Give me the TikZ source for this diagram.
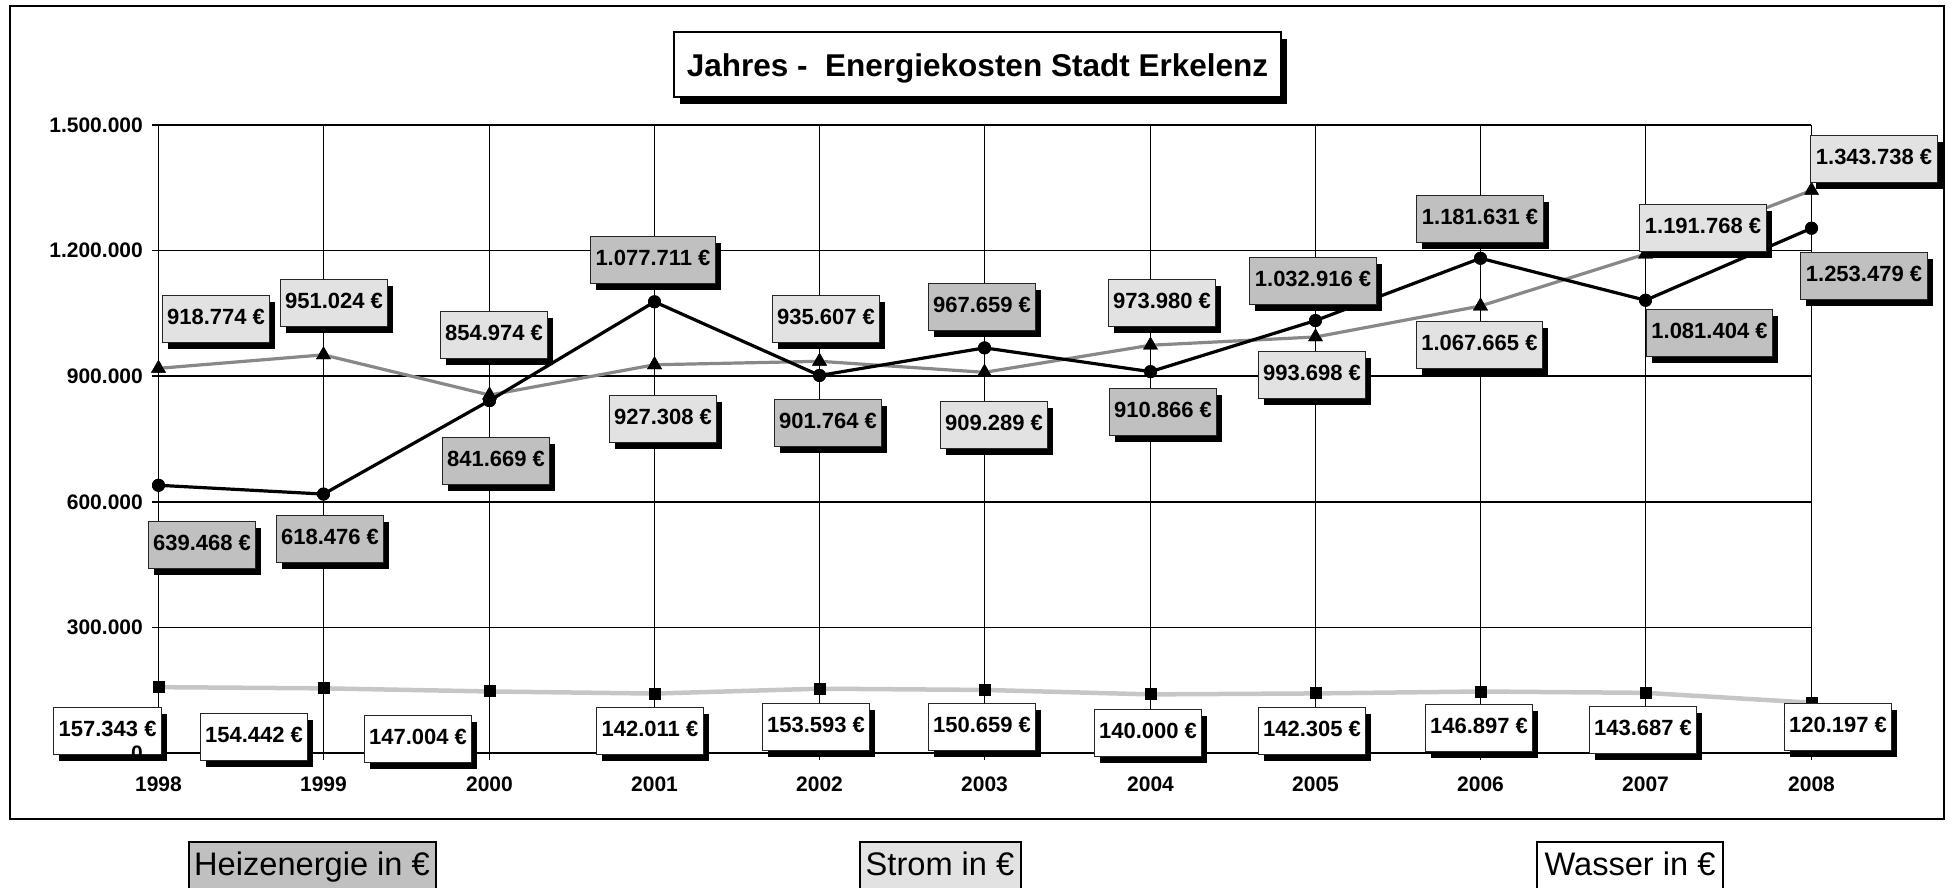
\documentclass[tikz,border=0pt]{standalone}
\usepackage{fontspec}
\setmainfont{Liberation Sans}
\usetikzlibrary{shadows,shapes.geometric}
\definecolor{heizfill}{HTML}{C0C0C0}
\definecolor{stromfill}{HTML}{E2E2E2}
\definecolor{stromcol}{HTML}{888888}
\definecolor{wassercol}{HTML}{C6C6C6}
\begin{document}
\begin{tikzpicture}[x=1pt,y=-1pt,
  shadowed/.style={drop shadow={shadow xshift=5.5pt,shadow yshift=-6.5pt,opacity=1,fill=black}},
  lbl/.style={shadowed,draw=black!85,line width=1pt,inner xsep=5pt,inner ysep=0pt,
    minimum height=47pt,text height=16pt,text depth=5pt,
    font=\bfseries\fontsize{22}{26}\selectfont},
  hlbl/.style={lbl,fill=heizfill},
  slbl/.style={lbl,fill=stromfill},
  wlbl/.style={lbl,fill=white},
  gridh/.style={line width=1.6pt,black},
  gridv/.style={line width=1.3pt,black},
  axlbl/.style={font=\bfseries\fontsize{21}{24}\selectfont,inner sep=0pt},
  hmark/.style={circle,fill=black,minimum size=13pt,inner sep=0pt},
  smark/.style={regular polygon,regular polygon sides=3,fill=black,minimum size=17pt,inner sep=0pt},
  wmark/.style={rectangle,fill=black,minimum size=12pt,inner sep=0pt},
  hpath/.style={line width=3.2pt,black,line join=round},
  spath/.style={line width=3.2pt,stromcol,line join=round},
  wpath/.style={line width=4.5pt,wassercol,line join=round},
  legbox/.style={draw=black,line width=2pt,minimum height=60pt,inner sep=0pt},
  legtxt/.style={font=\fontsize{32.6}{36}\selectfont,inner sep=0pt}
]
\clip (0,0) rectangle (1952,887);
\useasboundingbox (0,0) rectangle (1952,887);
% outer frame
\draw[line width=2.5pt] (10,6) rectangle (1944,819);
% title
\node[shadowed,draw=black,line width=1.5pt,fill=white,minimum width=607pt,minimum height=65pt,
  text height=23pt,text depth=0pt,font=\bfseries\fontsize{31.5}{36}\selectfont] (title)
  at (977.5,64.5) {Jahres - \ Energiekosten Stadt Erkelenz};
% grid
\foreach \v in {0,300,600,900,1200,1500}
  \draw[gridh] (152,{753-0.418667*\v}) -- (1811,{753-0.418667*\v});
\foreach \i in {0,...,10}
  \draw[gridv] ({round(158+165.25*\i)+0.5},125) -- ({round(158+165.25*\i)+0.5},760);
% axis labels
\foreach \v/\t in {300/300.000,600/600.000,900/900.000,1200/1.200.000,1500/1.500.000}
  \node[axlbl,anchor=east] (y\v) at (143,{753-0.418667*\v}) {\t};
\foreach \i/\t in {0/1998,1/1999,2/2000,3/2001,4/2002,5/2003,6/2004,7/2005,8/2006,9/2007,10/2008}
  \node[axlbl] (yr\i) at ({round(158+165.25*\i)+0.5},784) {\t};
% markers
\foreach \i/\v in {0/157.343,1/154.442,2/147.004,3/142.011,4/153.593,5/150.659,6/140.000,7/142.305,8/146.897,9/143.687,10/120.197}
  \node[wmark] (wm\i) at ({round(158+165.25*\i)+0.5},{753-0.418667*\v}) {};
\foreach \i/\v in {0/918.774,1/951.024,2/854.974,3/927.308,4/935.607,5/909.289,6/973.980,7/993.698,8/1067.665,9/1191.768,10/1343.738}
  \node[smark] (sm\i) at ({round(158+165.25*\i)+0.5},{753-0.418667*\v}) {};
\foreach \i/\v in {0/639.468,1/618.476,2/841.669,3/1077.711,4/901.764,5/967.659,6/910.866,7/1032.916,8/1181.631,9/1081.404,10/1253.479}
  \node[hmark] (hm\i) at ({round(158+165.25*\i)+0.5},{753-0.418667*\v}) {};
% lines
\draw[wpath] (wm0.center) -- (wm1.center) -- (wm2.center) -- (wm3.center) -- (wm4.center) -- (wm5.center) -- (wm6.center) -- (wm7.center) -- (wm8.center) -- (wm9.center) -- (wm10.center);
\draw[spath] (sm0.center) -- (sm1.center) -- (sm2.center) -- (sm3.center) -- (sm4.center) -- (sm5.center) -- (sm6.center) -- (sm7.center) -- (sm8.center) -- (sm9.center) -- (sm10.center);
\draw[hpath] (hm0.center) -- (hm1.center) -- (hm2.center) -- (hm3.center) -- (hm4.center) -- (hm5.center) -- (hm6.center) -- (hm7.center) -- (hm8.center) -- (hm9.center) -- (hm10.center);
% markers on top of lines
\foreach \i in {0,...,10} {
  \node[wmark] (wmt\i) at (wm\i) {};
  \node[smark] (smt\i) at (sm\i) {};
  \node[hmark] (hmt\i) at (hm\i) {};
}
% value labels
\foreach \i/\t/\x/\y in {0/157.343/107.6/731,1/154.442/254/737,2/147.004/418/739,3/142.011/650/731,4/153.593/816/727,5/150.659/982/727,6/140.000/1148/733,7/142.305/1312/730.5,8/146.897/1479/728,9/143.687/1643/730,10/120.197/1838/726.7}
  \node[wlbl] (wl\i) at (\x,\y) {\t\ €};
\foreach \i/\t/\x/\y in {0/918.774/216/319,1/951.024/334/302.7,2/854.974/494/335,3/927.308/663/419,4/935.607/826/319,5/909.289/994/425,6/973.980/1162/303,7/993.698/1312/375,8/1.067.665/1479.4/345,9/1.191.768/1703/228,10/1.343.738/1874/158.5}
  \node[slbl] (sl\i) at (\x,\y) {\t\ €};
\foreach \i/\t/\x/\y in {0/639.468/202/544.5,1/618.476/330/539,2/841.669/496/461,3/1.077.711/653/260,4/901.764/828/422.5,5/967.659/982/307,6/910.866/1163/412,7/1.032.916/1313/281,8/1.181.631/1480/218.5,9/1.081.404/1709.5/333,10/1.253.479/1864/276}
  \node[hlbl] (hl\i) at (\x,\y) {\t\ €};
% zero label
\node[axlbl,anchor=east] (y0) at (143,753) {0};
% legend
\node[legbox,fill=heizfill,minimum width=247pt] (legh) at (312,872) {};
\node[legtxt,anchor=base] (leght) at (312,875) {Heizenergie in €};
\node[legbox,fill=stromfill,minimum width=161pt] (legs) at (940,872) {};
\node[legtxt,anchor=base] (legst) at (940,875) {Strom in €};
\node[legbox,fill=white,minimum width=186pt] (legw) at (1630,872) {};
\node[legtxt,anchor=base] (legwt) at (1630,875) {Wasser in €};
\end{tikzpicture}
\end{document}
